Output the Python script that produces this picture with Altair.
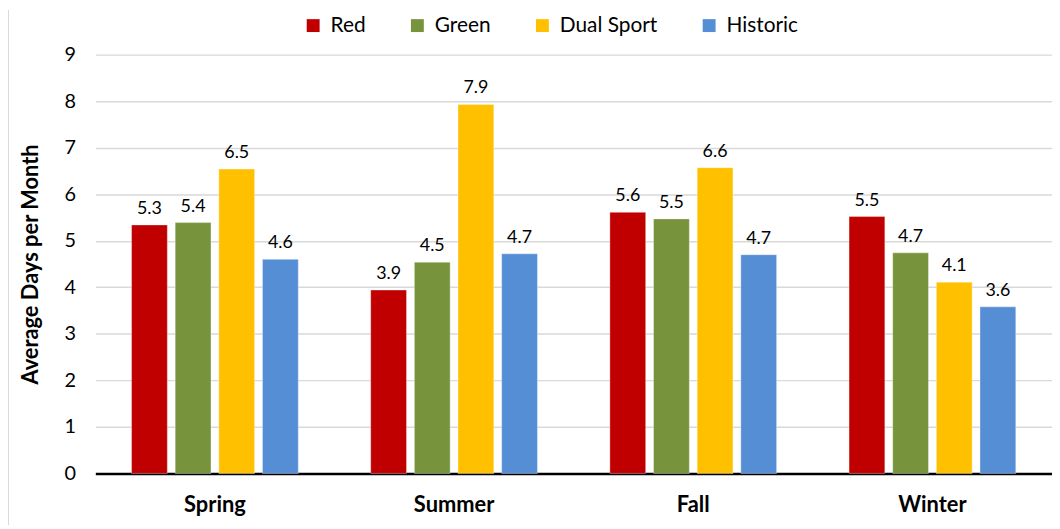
import altair as alt
import pandas as pd

seasons = ["Spring", "Summer", "Fall", "Winter"]
series = ["Red", "Green", "Dual Sport", "Historic"]
colors = ["#C00000", "#77933C", "#FFC000", "#558ED5"]

red = [5.34, 3.94, 5.61, 5.52]
green = [5.39, 4.54, 5.47, 4.74]
dual_sport = [6.54, 7.93, 6.57, 4.11]
historic = [4.60, 4.72, 4.70, 3.58]

y_ticks = [0, 1, 2, 3, 4, 5, 6, 7, 8, 9]

rows = []
for name, vals in zip(series, [red, green, dual_sport, historic]):
    for s, v in zip(seasons, vals):
        rows.append({"season": s, "series": name, "value": v})
df = pd.DataFrame(rows)

FONT = "Lato"
W, H = 964, 422

x_enc = alt.X(
    "season:N",
    sort=seasons,
    title=None,
    scale=alt.Scale(paddingInner=0.27, paddingOuter=0.135),
    axis=alt.Axis(
        labelAngle=0,
        labelFont=FONT,
        labelFontSize=22,
        labelFontWeight="bold",
        labelColor="#000000",
        labelPadding=21,
        ticks=False,
        domainColor="#000000",
        domainWidth=2.5,
        grid=False,
    ),
)
xoff_enc = alt.XOffset(
    "series:N", sort=series, scale=alt.Scale(paddingInner=0.18, paddingOuter=0.09)
)
y_enc = alt.Y(
    "value:Q",
    scale=alt.Scale(domain=[0, 9], nice=False),
    title="Average Days per Month",
    axis=alt.Axis(
        values=y_ticks,
        labelFont=FONT,
        labelFontSize=20,
        labelColor="#000000",
        labelPadding=20,
        ticks=False,
        domain=False,
        gridColor="#D9D9D9",
        gridWidth=1.5,
        titleFont=FONT,
        titleFontSize=22,
        titleFontWeight="bold",
        titleColor="#000000",
        titlePadding=22,
    ),
)

bars = (
    alt.Chart(df)
    .mark_bar(stroke="#FFFFFF", strokeWidth=1, strokeOpacity=0.35)
    .encode(
        x=x_enc,
        xOffset=xoff_enc,
        y=y_enc,
        color=alt.Color(
            "series:N",
            sort=series,
            scale=alt.Scale(domain=series, range=colors),
            legend=alt.Legend(
                title=None,
                orient="none",
                direction="horizontal",
                legendX=209,
                legendY=-40,
                symbolType="square",
                symbolSize=169,
                symbolStrokeWidth=0,
                symbolOpacity=1,
                labelFont=FONT,
                labelFontSize=21,
                labelColor="#000000",
                labelOffset=7,
                columnPadding=41,
                labelLimit=300,
            ),
        ),
    )
)

labels = (
    alt.Chart(df)
    .mark_text(dy=-11, baseline="alphabetic", font=FONT, fontSize=18, color="#000000")
    .encode(
        x=alt.X("season:N", sort=seasons),
        xOffset=alt.XOffset("series:N", sort=series),
        y=alt.Y("value:Q"),
        text=alt.Text("value:Q", format=".1f"),
    )
)

border = (
    alt.Chart(pd.DataFrame({"a": [0]}))
    .mark_rule(color="#D9D9D9", strokeWidth=1)
    .encode(x=alt.value(-87.5), y=alt.value(-45), y2=alt.value(H + 60))
)

chart = (
    alt.layer(border, bars, labels)
    .properties(
        width=W,
        height=H,
        autosize=alt.AutoSizeParams(type="none"),
        padding={"left": 88, "top": 45, "right": 0, "bottom": 50},
    )
    .configure_view(stroke=None)
)

chart.save("out.html", embed_options={"renderer": "svg", "actions": False})
